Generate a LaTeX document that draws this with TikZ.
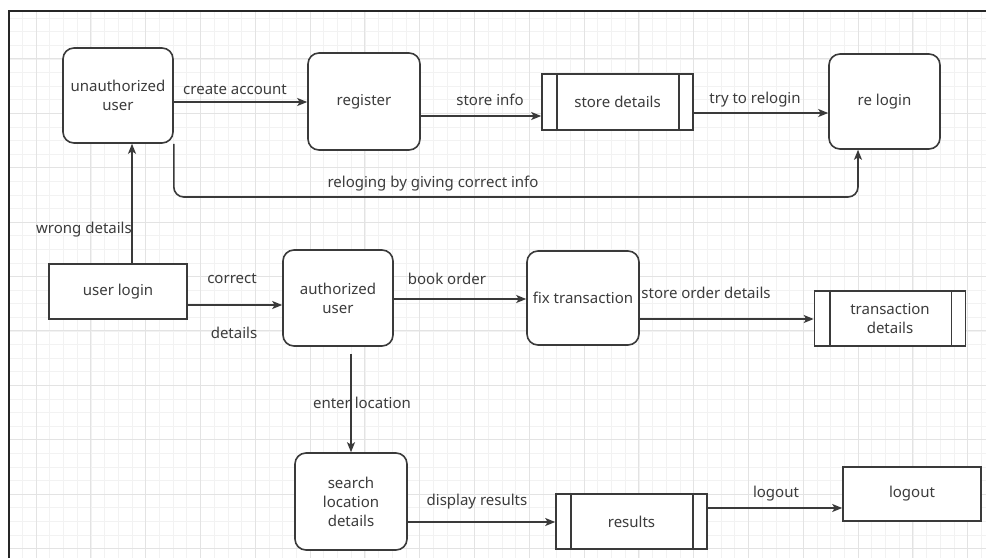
\documentclass[tikz,border=0pt]{standalone}
\usepackage{fontspec}
\setmainfont{Noto Sans}
\usetikzlibrary{arrows.meta}
\definecolor{ink}{HTML}{3A3A3A}
\definecolor{txt}{HTML}{3C3C3C}
\tikzset{
  majorgrid/.style={draw=black!11, line width=0.9pt},
  minorgrid/.style={draw=black!5, line width=0.6pt},
  proc/.style={draw=ink, line width=1.6pt, rounded corners=11pt, fill=white, align=center, text=txt, inner sep=0pt},
  rectbox/.style={draw=ink, line width=1.6pt, fill=white, align=center, text=txt, inner sep=0pt},
  sideline/.style={draw=ink, line width=1.6pt},
  arr/.style={draw=ink, line width=1.6pt, -{Stealth[length=10pt,width=8pt,inset=2.5pt]}},
  lbl/.style={text=txt, inner sep=0pt},
}
\begin{document}
\begin{tikzpicture}[x=1pt,y=-1pt, font=\fontsize{15}{19}\selectfont]
\useasboundingbox (0,0) rectangle (986,558);
\fill[white] (0,0) rectangle (986,558);
% grid
\begin{scope}
\clip (9,11) rectangle (986,558);
\foreach \i in {-2,...,72} \draw[minorgrid] (36+\i*13.7,0) -- (36+\i*13.7,558);
\foreach \i in {0,...,41} \draw[minorgrid] (0,4.5+\i*13.6) -- (986,4.5+\i*13.6);
\foreach \i in {-1,...,18} \draw[majorgrid] (36+\i*54.8,0) -- (36+\i*54.8,558);
\foreach \i in {0,...,10} \draw[majorgrid] (0,4.5+\i*54.4) -- (986,4.5+\i*54.4);
\end{scope}
% frame
\draw[line width=1.6pt, black!85] (9,558) -- (9,11) -- (986,11);

% nodes
\node[proc, minimum width=110pt, minimum height=95pt] (unauth) at (118,95.5) {unauthorized\\user};
\node[proc, minimum width=112pt, minimum height=97pt] (register) at (364,101.5) {register};
\node[rectbox, minimum width=151pt, minimum height=56pt] (sdet) at (617.5,102) {store details};
\node[proc, minimum width=111pt, minimum height=95pt] (relogin) at (884.5,101.5) {re login};
\node[rectbox, minimum width=138pt, minimum height=55pt] (ulogin) at (118,291.5) {user login};
\node[proc, minimum width=110pt, minimum height=96pt] (auth) at (338,298) {authorized\\user};
\node[proc, minimum width=112pt, minimum height=94pt] (fixt) at (583,298) {fix transaction};
\node[rectbox, minimum width=151pt, minimum height=55pt] (tdet) at (890,318.5) {transaction\\details};
\node[proc, minimum width=112pt, minimum height=97pt] (search) at (351,501.5) {search\\location\\details};
\node[rectbox, minimum width=151pt, minimum height=55pt] (results) at (631.5,521.5) {results};
\node[rectbox, minimum width=138pt, minimum height=54pt] (logout) at (912,494) {logout};

% side lines of stores
\foreach \n in {sdet,tdet,results}{
  \draw[sideline] ([xshift=16pt]\n.north west) -- ([xshift=16pt]\n.south west);
  \draw[sideline] ([xshift=-15pt]\n.north east) -- ([xshift=-15pt]\n.south east);
}

% connectors
\coordinate (rl) at (858,197);
\draw[arr] (unauth.east |- 0,102) -- (register.west |- 0,102);
\draw[arr] (register.east |- 0,116) -- (sdet.west |- 0,116);
\draw[arr] (sdet.east |- 0,113) -- (relogin.west |- 0,113);
\draw[arr, rounded corners=10pt] (unauth.south east) |- (rl) -- (rl |- relogin.south);
\draw[arr] (ulogin.north -| 132,0) -- (unauth.south -| 132,0);
\draw[arr] (ulogin.east |- 0,305) -- (auth.west |- 0,305);
\draw[arr] (auth.east |- 0,299) -- (fixt.west |- 0,299);
\draw[arr] (fixt.east |- 0,319) -- (tdet.west |- 0,319);
\draw[arr, shorten <=7pt] (search.north |- auth.south) -- (search.north);
\draw[arr] (search.east |- 0,522) -- (results.west |- 0,522);
\draw[arr] (results.east |- 0,508) -- (logout.west |- 0,508);

% labels
\node[lbl] (l1) at (235,90) {create account};
\node[lbl] (l2) at (490,100) {store info};
\node[lbl] (l3) at (755,100) {try to relogin};
\node[lbl] (l4) at (433,184) {reloging by giving correct info};
\node[lbl] (l5) at (84,230) {wrong details};
\node[lbl] (l6) at (232,279) {correct};
\node[lbl] (l7) at (234,333) {details};
\node[lbl] (l8) at (447,279) {book order};
\node[lbl] (l9) at (706,293) {store order details};
\node[lbl] (l10) at (362,403) {enter location};
\node[lbl] (l11) at (477,502) {display results};
\node[lbl] (l12) at (776,494) {logout};
\end{tikzpicture}
\end{document}
